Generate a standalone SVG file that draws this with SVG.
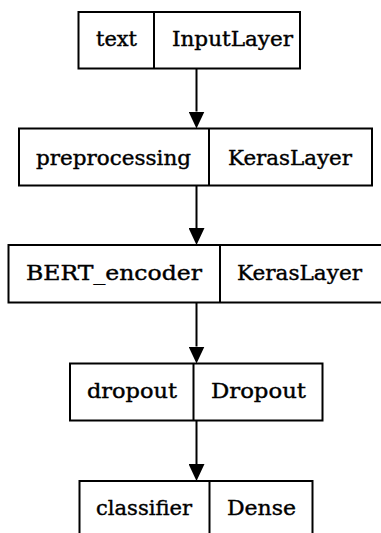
<svg xmlns="http://www.w3.org/2000/svg" width="381" height="533" viewBox="0 0 381 533">
<style>
.box{fill:#fff;stroke:#000;stroke-width:2}
.div{stroke:#000;stroke-width:2}
.lbl{font-family:"DejaVu Serif","Liberation Serif",serif;font-size:20px;fill:#000;stroke:#000;stroke-width:0.4}
.edge{stroke:#000;stroke-width:2;fill:none}
</style>
<defs>
<marker id="ah" markerUnits="userSpaceOnUse" markerWidth="17" markerHeight="16" refX="0" refY="8" orient="auto" viewBox="0 0 17 16">
<path d="M0,0 L17,8 L0,16 z" fill="#000"/>
</marker>
</defs>
<rect width="381" height="533" fill="#fff"/>
<g id="connectors">
<line class="edge" x1="196.5" y1="69" x2="196.5" y2="111.5" marker-end="url(#ah)"/>
<line class="edge" x1="196.5" y1="186" x2="196.5" y2="228" marker-end="url(#ah)"/>
<line class="edge" x1="196.5" y1="303" x2="196.5" y2="346.5" marker-end="url(#ah)"/>
<line class="edge" x1="196.5" y1="421" x2="196.5" y2="464" marker-end="url(#ah)"/>
</g>
<g id="text_input">
<rect class="box" x="78.5" y="12" width="221.5" height="56.5"/>
<line class="div" x1="154" y1="12" x2="154" y2="68.5"/>
<text class="lbl" x="96" y="46" textLength="41" lengthAdjust="spacingAndGlyphs">text</text>
<text class="lbl" x="172" y="46" textLength="121" lengthAdjust="spacingAndGlyphs">InputLayer</text>
</g>
<g id="preprocessing">
<rect class="box" x="19" y="128.5" width="353" height="57"/>
<line class="div" x1="209" y1="128.5" x2="209" y2="185.5"/>
<text class="lbl" x="36" y="165" textLength="155" lengthAdjust="spacingAndGlyphs">preprocessing</text>
<text class="lbl" x="228" y="165" textLength="124" lengthAdjust="spacingAndGlyphs">KerasLayer</text>
</g>
<g id="bert_encoder">
<rect class="box" x="8.5" y="245" width="376" height="57.5"/>
<line class="div" x1="220" y1="245" x2="220" y2="302.5"/>
<text class="lbl" x="26" y="280" textLength="176" lengthAdjust="spacingAndGlyphs">BERT_encoder</text>
<text class="lbl" x="237" y="280" textLength="125" lengthAdjust="spacingAndGlyphs">KerasLayer</text>
</g>
<g id="dropout">
<rect class="box" x="70" y="363.5" width="252.5" height="57"/>
<line class="div" x1="193.5" y1="363.5" x2="193.5" y2="420.5"/>
<text class="lbl" x="87" y="398" textLength="90" lengthAdjust="spacingAndGlyphs">dropout</text>
<text class="lbl" x="211" y="398" textLength="95" lengthAdjust="spacingAndGlyphs">Dropout</text>
</g>
<g id="classifier">
<rect class="box" x="79.5" y="481" width="233" height="57"/>
<line class="div" x1="209.5" y1="481" x2="209.5" y2="538"/>
<text class="lbl" x="96" y="515" textLength="96" lengthAdjust="spacingAndGlyphs">classifier</text>
<text class="lbl" x="227" y="515" textLength="69" lengthAdjust="spacingAndGlyphs">Dense</text>
</g>
</svg>
